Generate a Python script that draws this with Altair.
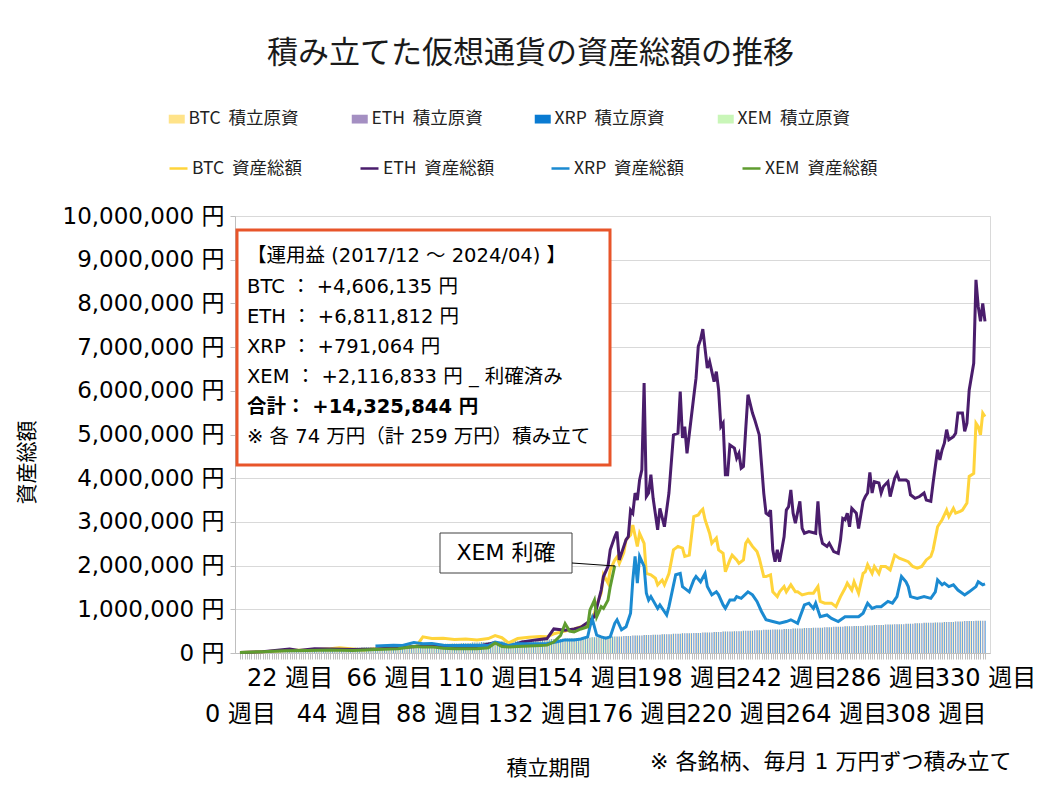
"""積み立てた仮想通貨の資産総額の推移 (週次)."""

import altair as alt
import pandas as pd

FONT = "DejaVu Sans, Noto Sans CJK JP"
JP_FONT = "Noto Sans CJK JP"
GAP = "\u00a0\u00a0"

COINS = ["BTC", "ETH", "XRP", "XEM"]
PRINCIPAL_NAMES = [f"{c}{GAP}積立原資" for c in COINS]
TOTAL_NAMES = [f"{c}{GAP}資産総額" for c in COINS]
PRINCIPAL_COLORS = ["#FFE389", "#A48FC2", "#0A7BD2", "#C9F6B8"]
TOTAL_COLORS = ["#FFD43B", "#4A1D6C", "#1B8AD1", "#5F9C2F"]
BAR_SHIFT = [-0.75, -0.25, 0.25, 0.75]

# weeks on which 1万円 was added (each coin)
PURCHASE_WEEKS = [0, 4, 9, 13, 18, 22, 27, 31, 36, 40,
                  45, 49, 54, 58, 63, 67, 71, 76, 80, 85,
                  89, 94, 98, 103, 107, 112, 116, 121, 125, 129,
                  134, 138, 143, 147, 152, 156, 161, 165, 170, 174,
                  179, 183, 187, 192, 196, 201, 205, 210, 214, 219,
                  223, 228, 232, 236, 241, 245, 250, 254, 259, 263,
                  268, 272, 277, 281, 286, 290, 295, 299, 303, 308,
                  312, 317, 321, 326]
LAST_WEEK = 330
XEM_LAST_WEEK = 166  # XEM 利確

# 資産総額 (万円)
BTC_WEEKS = [0, 10, 20, 30, 40, 44, 50, 55, 60, 70,
             78, 81, 85, 90, 95, 100, 105, 110, 113, 116,
             119, 123, 128, 133, 136, 139, 144, 148, 151, 154,
             157, 158, 160, 161, 163, 164, 166, 167, 168, 170,
             171, 173, 174, 176, 177, 179, 180, 182, 184, 185,
             187, 188, 190, 192, 194, 196, 197, 199, 201, 203,
             204, 205, 206, 208, 209, 211, 212, 214, 215, 217,
             218, 220, 221, 223, 224, 225, 227, 229, 230, 232,
             233, 235, 236, 238, 239, 241, 242, 244, 246, 247,
             249, 252, 254, 256, 257, 259, 262, 264, 266, 268,
             269, 271, 272, 274, 276, 277, 278, 280, 281, 283,
             284, 286, 288, 290, 292, 294, 296, 298, 300, 302,
             304, 306, 307, 309, 310, 311, 313, 314, 316, 317,
             319, 320, 322, 323, 325, 326, 327, 328, 329, 330]
BTC_MAN = [1, 3, 6, 7, 10, 12, 9, 7, 10, 13,
           15, 37, 33, 34, 31, 32, 30, 33, 40, 35,
           23, 33, 36, 38, 37, 44, 50, 55, 60, 64,
           91, 110, 137, 179, 160, 190, 213, 220, 205, 230,
           259, 270, 293, 244, 274, 251, 182, 179, 171, 156,
           167, 156, 182, 236, 244, 240, 221, 224, 312, 316,
           324, 329, 305, 274, 251, 263, 236, 228, 186, 213,
           224, 213, 205, 213, 251, 259, 244, 232, 217, 175,
           175, 179, 140, 129, 140, 152, 140, 156, 140, 140,
           133, 137, 137, 152, 118, 114, 114, 106, 129, 148,
           160, 144, 163, 137, 182, 186, 202, 182, 198, 182,
           198, 198, 190, 224, 217, 213, 209, 198, 194, 198,
           213, 221, 236, 289, 297, 305, 327, 312, 331, 320,
           324, 327, 343, 404, 411, 526, 518, 499, 549, 541]

ETH_WEEKS = [0, 10, 22, 26, 33, 40, 50, 60, 70, 78,
             85, 95, 105, 113, 119, 125, 131, 136, 139, 144,
             148, 151, 154, 157, 160, 161, 163, 164, 166, 167,
             168, 171, 172, 173, 174, 175, 176, 177, 178, 179,
             180, 181, 182, 183, 185, 186, 188, 190, 192, 194,
             195, 196, 197, 198, 201, 202, 203, 204, 205, 207,
             208, 209, 210, 211, 212, 213, 214, 215, 216, 217,
             219, 220, 221, 222, 223, 224, 225, 227, 228, 230,
             232, 233, 234, 235, 236, 237, 238, 239, 241, 242,
             243, 244, 245, 246, 248, 249, 250, 252, 255, 256,
             257, 258, 260, 261, 263, 265, 266, 267, 268, 269,
             270, 271, 273, 274, 276, 277, 278, 279, 280, 281,
             283, 284, 285, 287, 288, 290, 291, 292, 295, 296,
             297, 299, 301, 303, 304, 306, 307, 309, 310, 311,
             312, 313, 314, 316, 317, 318, 320, 321, 322, 323,
             325, 326, 327, 328, 329, 330]
ETH_MAN = [1, 3, 9, 6, 10, 9, 8, 9, 12, 15,
           16, 15, 15, 24, 15, 25, 30, 33, 55, 52,
           55, 59, 70, 83, 144, 175, 198, 236, 266, 278,
           213, 259, 266, 327, 320, 366, 350, 396, 419, 618,
           358, 366, 408, 354, 282, 331, 289, 366, 499, 503,
           598, 492, 518, 457, 587, 629, 702, 717, 741, 652,
           667, 644, 621, 644, 602, 518, 526, 408, 408, 476,
           469, 446, 457, 423, 427, 511, 591, 549, 534, 499,
           366, 320, 316, 327, 236, 209, 236, 209, 266, 327,
           335, 373, 320, 297, 347, 285, 274, 278, 274, 347,
           274, 251, 244, 251, 232, 228, 259, 308, 305, 320,
           289, 331, 320, 285, 347, 358, 366, 413, 366, 392,
           389, 366, 381, 392, 358, 400, 411, 396, 396, 392,
           362, 354, 358, 366, 350, 347, 389, 465, 442, 465,
           480, 511, 488, 495, 503, 549, 549, 507, 526, 602,
           663, 854, 793, 759, 800, 759]

XRP_WEEKS = [60, 68, 72, 77, 81, 85, 90, 95, 100, 105,
             110, 113, 116, 119, 123, 128, 133, 136, 140, 144,
             148, 151, 154, 155, 156, 157, 158, 160, 162, 164,
             166, 167, 169, 171, 173, 174, 175, 176, 177, 179,
             180, 181, 182, 185, 186, 189, 190, 193, 195, 196,
             197, 199, 201, 202, 204, 206, 207, 209, 211, 212,
             214, 215, 217, 219, 220, 222, 225, 227, 229, 231,
             233, 236, 239, 242, 244, 247, 250, 252, 254, 255,
             257, 260, 262, 265, 268, 271, 274, 276, 278, 280,
             282, 284, 287, 289, 291, 293, 295, 296, 297, 300,
             303, 306, 308, 309, 311, 312, 314, 316, 318, 321,
             323, 326, 327, 329, 330]
XRP_MAN = [16, 18, 17, 24, 21, 22, 18, 17, 17, 18,
           17, 25, 22, 17, 21, 21, 21, 22, 25, 30,
           30, 32, 37, 60, 79, 60, 41, 37, 34, 37,
           68, 76, 53, 60, 91, 167, 221, 160, 221, 198,
           137, 121, 129, 102, 110, 87, 106, 179, 182, 152,
           148, 140, 167, 175, 163, 182, 152, 133, 140, 133,
           110, 102, 121, 121, 129, 125, 140, 133, 118, 95,
           76, 72, 68, 72, 76, 68, 110, 114, 102, 114,
           83, 87, 79, 72, 83, 83, 83, 91, 114, 102,
           106, 106, 118, 114, 129, 175, 163, 152, 129, 125,
           129, 125, 140, 167, 156, 160, 152, 156, 144, 133,
           140, 152, 163, 156, 158]

XEM_WEEKS = [0, 10, 20, 30, 40, 50, 55, 60, 70, 77,
             81, 85, 90, 95, 100, 105, 110, 113, 116, 119,
             123, 128, 133, 136, 139, 142, 144, 146, 148, 151,
             154, 155, 157, 158, 160, 161, 163, 164, 166]
XEM_MAN = [1, 3, 5, 6, 7, 6, 7, 8, 10, 15,
           14, 14, 11, 10, 10, 10, 12, 23, 15, 14,
           15, 16, 17, 18, 25, 40, 67, 50, 48, 55,
           60, 98, 121, 83, 106, 102, 121, 152, 200]

INFO_LINES = [
    "【運用益 (2017/12 ～ 2024/04) 】",
    "BTC ： +4,606,135 円",
    "ETH ： +6,811,812 円",
    "XRP ： +791,064 円",
    "XEM ： +2,116,833 円 _ 利確済み",
    "合計： +14,325,844 円",
    "※ 各 74 万円（計 259 万円）積み立て",
]

SERIES = {
    "BTC": (BTC_WEEKS, BTC_MAN),
    "ETH": (ETH_WEEKS, ETH_MAN),
    "XRP": (XRP_WEEKS, XRP_MAN),
    "XEM": (XEM_WEEKS, XEM_MAN),
}

X_ENC = alt.X(
    "week:Q",
    scale=alt.Scale(domain=[0, LAST_WEEK], nice=False, zero=False),
    axis=alt.Axis(
        values=list(range(0, LAST_WEEK + 1)),
        labelExpr=("datum.value % 22 != 0 ? '' : (datum.value % 44 == 0"
                   " ? [' ', datum.value + ' 週目'] : [datum.value + ' 週目'])"),
        labelOverlap=False, labelFlush=False, labelBound=False,
        labelFont=FONT, labelFontSize=24, labelLineHeight=36,
        labelPadding=7, labelColor="#000",
        tickSize=6, tickColor="#BFBFBF", domainColor="#BFBFBF",
        grid=False,
        title="積立期間", titleFont=JP_FONT, titleFontSize=21,
        titleFontWeight="normal", titleColor="#000",
        titleX=313, titleY=115, titleAlign="center", titleBaseline="middle",
    ),
)

Y_ENC = alt.Y(
    "yen:Q",
    scale=alt.Scale(domain=[0, 10_000_000], nice=False),
    axis=alt.Axis(
        values=list(range(0, 10_000_001, 1_000_000)),
        labelExpr="format(datum.value, ',') + ' 円'",
        labelFont=FONT, labelFontSize=23, labelPadding=6, labelColor="#000",
        tickSize=5, tickColor="#BFBFBF", domainColor="#BFBFBF",
        gridColor="#D9D9D9",
        title="資産総額", titleFont=JP_FONT, titleFontSize=21,
        titleFontWeight="normal", titleColor="#000",
        titleX=-208, titleY=246, titleAlign="center", titleBaseline="middle",
    ),
)

BAR_LEGEND = alt.Legend(
    title=None, orient="none", legendX=-67, legendY=-106,
    direction="horizontal", columns=4, gridAlign="all", columnPadding=50,
    symbolType="M-1,-0.55L1,-0.55L1,0.55L-1,0.55Z", symbolSize=256,
    symbolStrokeWidth=0, labelFont=JP_FONT, labelFontSize=17.5,
    labelColor="#222", labelOffset=3, labelLimit=200,
)
LINE_LEGEND = alt.Legend(
    title=None, orient="none", legendX=-67, legendY=-58,
    direction="horizontal", columns=4, gridAlign="all", columnPadding=50,
    symbolType="stroke", symbolSize=324, symbolStrokeWidth=2.5,
    labelFont=JP_FONT, labelFontSize=17.5, labelColor="#222",
    labelOffset=3, labelLimit=200,
)


def principal_frame(coin: str) -> pd.DataFrame:
    """Weekly 積立原資 of one coin (bars)."""
    last = XEM_LAST_WEEK if coin == "XEM" else LAST_WEEK
    rows = []
    for week in range(0, last + 1):
        count = sum(1 for p in PURCHASE_WEEKS if p <= week)
        rows.append({"week": week, "yen": count * 10_000,
                     "name": f"{coin}{GAP}積立原資"})
    return pd.DataFrame(rows)


def total_frame(coin: str) -> pd.DataFrame:
    weeks, man = SERIES[coin]
    assert len(weeks) == len(man), coin
    return pd.DataFrame({"week": weeks, "yen": [v * 10_000 for v in man],
                         "name": f"{coin}{GAP}資産総額"})


ANCHOR = pd.DataFrame({"k": [0]})


def text_layer(text, x, y, size=19, weight="normal", align="left",
               font=FONT):
    return alt.Chart(ANCHOR).mark_text(
        text=text, align=align, baseline="middle", fontSize=size,
        fontWeight=weight, font=font, color="#000"
    ).encode(x=alt.value(x), y=alt.value(y))


bar_layers = []
for i, coin in enumerate(COINS):
    bar_layers.append(
        alt.Chart(principal_frame(coin)).mark_bar(
            size=0.5, xOffset=BAR_SHIFT[i]
        ).encode(
            x=X_ENC, y=Y_ENC,
            fill=alt.Fill("name:N", scale=alt.Scale(domain=PRINCIPAL_NAMES,
                                                    range=PRINCIPAL_COLORS),
                          legend=BAR_LEGEND),
        )
    )

line_layers = []
for coin in COINS:
    line_layers.append(
        alt.Chart(total_frame(coin)).mark_line(strokeWidth=3).encode(
            x=X_ENC, y=Y_ENC,
            stroke=alt.Stroke("name:N", scale=alt.Scale(domain=TOTAL_NAMES,
                                                        range=TOTAL_COLORS),
                              legend=LINE_LEGEND),
        )
    )

info_box = alt.Chart(ANCHOR).mark_rect(
    fill="white", stroke="#E8552A", strokeWidth=3
).encode(x=alt.value(2), x2=alt.value(375), y=alt.value(14), y2=alt.value(249))

info_rows = [40, 71, 101, 131, 161, 191, 221]
info_texts = [
    text_layer(line, 12, row, size=19.5,
               weight="bold" if line.startswith("合計") else "normal")
    for line, row in zip(INFO_LINES, info_rows)
]

callout_box = alt.Chart(ANCHOR).mark_rect(
    fill="white", stroke="#404040", strokeWidth=1
).encode(x=alt.value(205), x2=alt.value(337), y=alt.value(317), y2=alt.value(357))
callout_text = text_layer("XEM 利確", 271, 337, size=22, align="center")
leader = alt.Chart(ANCHOR).mark_rule(color="#000", strokeWidth=1).encode(
    x=alt.value(337), x2=alt.value(380), y=alt.value(347), y2=alt.value(350)
)

footnote = text_layer("※ 各銘柄、毎月 1 万円ずつ積み立て", 415, 546, size=22)

chart = alt.layer(
    *bar_layers, *line_layers, info_box, *info_texts,
    callout_box, callout_text, leader, footnote
).properties(
    width=755,
    height=437,
    title=alt.TitleParams(
        "積み立てた仮想通貨の資産総額の推移", font=JP_FONT, fontSize=31,
        fontWeight="normal", color="#1a1a1a", anchor="middle",
        offset=40, dx=-82,
    ),
    padding={"left": 227, "top": 208, "right": 58, "bottom": 132},
    autosize=alt.AutoSizeParams(type="none"),
).resolve_scale(
    fill="shared", stroke="shared"
).configure_view(
    stroke="#D9D9D9"
)

chart.save("out.html", embed_options={"renderer": "svg", "actions": False})
